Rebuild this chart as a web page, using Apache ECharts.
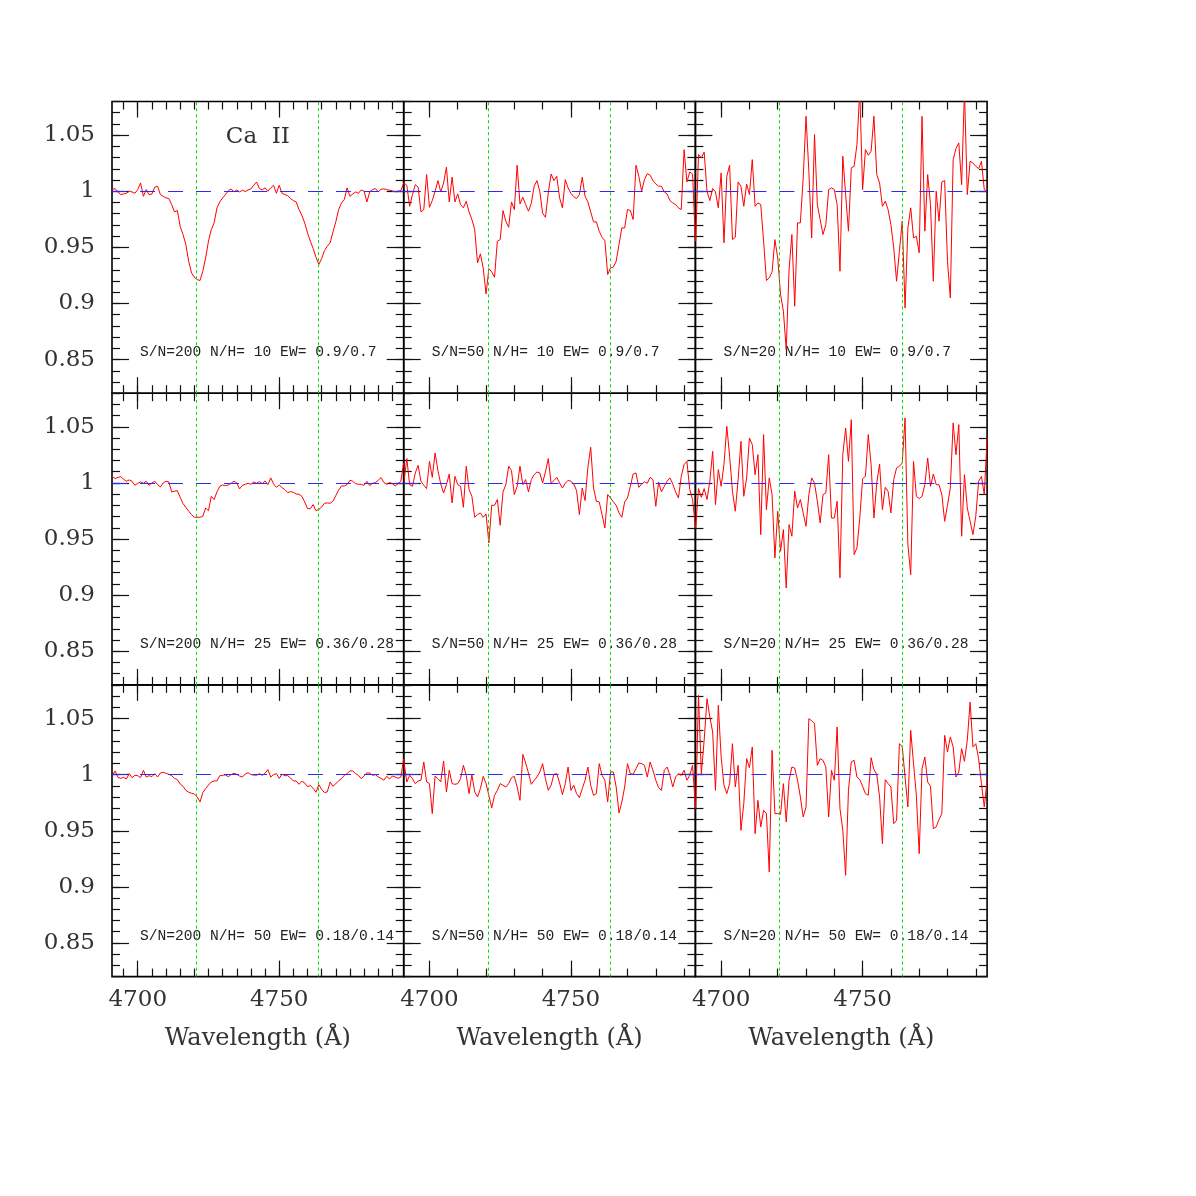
<!DOCTYPE html>
<html>
<head>
<meta charset="utf-8">
<title>Ca II</title>
<script src="https://cdn.jsdelivr.net/npm/echarts@6.0.0/dist/echarts.min.js"></script>
<style>
  html, body { margin: 0; padding: 0; background: #fff; }
  #chart { width: 1196px; height: 1196px; }
</style>
</head>
<body>
<div id="chart"></div>
<script>
// wavelength sampling (Å), shared by every panel
const wavelength = [
  4691, 4692, 4693, 4694, 4695, 4696, 4697, 4698, 4699, 4700,
  4701, 4702, 4703, 4704, 4705, 4706, 4707, 4708, 4709, 4710,
  4711, 4712, 4713, 4714, 4715, 4716, 4717, 4718, 4719, 4720,
  4721, 4722, 4723, 4724, 4725, 4726, 4727, 4728, 4729, 4730,
  4731, 4732, 4733, 4734, 4735, 4736, 4737, 4738, 4739, 4740,
  4741, 4742, 4743, 4744, 4745, 4746, 4747, 4748, 4749, 4750,
  4751, 4752, 4753, 4754, 4755, 4756, 4757, 4758, 4759, 4760,
  4761, 4762, 4763, 4764, 4765, 4766, 4767, 4768, 4769, 4770,
  4771, 4772, 4773, 4774, 4775, 4776, 4777, 4778, 4779, 4780,
  4781, 4782, 4783, 4784, 4785, 4786, 4787, 4788, 4789, 4790,
  4791, 4792, 4793, 4794
];

// normalised flux, N/H = 10
const sn200_nh10 = [
  1.0015, 1.0024, 0.9994, 0.9970, 0.9976, 0.9982, 1.0000, 0.9994, 0.9982, 1.0015,
  1.0074, 0.9955, 1.0015, 0.9970, 0.9976, 1.0036, 1.0045, 0.9970, 0.9955, 0.9941,
  0.9935, 0.9881, 0.9816, 0.9828, 0.9688, 0.9614, 0.9525, 0.9376, 0.9272, 0.9234,
  0.9213, 0.9204, 0.9287, 0.9406, 0.9555, 0.9658, 0.9718, 0.9852, 0.9905, 0.9941,
  0.9970, 1.0006, 1.0021, 0.9994, 1.0012, 0.9994, 1.0009, 0.9997, 1.0012, 1.0021,
  1.0053, 1.0083, 1.0024, 1.0012, 1.0030, 1.0000, 1.0030, 1.0053, 0.9982, 1.0053,
  0.9982, 0.9970, 0.9961, 0.9935, 0.9917, 0.9905, 0.9837, 0.9786, 0.9718, 0.9629,
  0.9555, 0.9489, 0.9412, 0.9347, 0.9400, 0.9471, 0.9510, 0.9540, 0.9638, 0.9727,
  0.9837, 0.9896, 0.9926, 1.0030, 0.9955, 0.9976, 0.9994, 0.9982, 1.0012, 1.0000,
  0.9905, 0.9994, 1.0015, 1.0024, 0.9994, 1.0018, 1.0021, 1.0015, 1.0009, 1.0003,
  0.9994, 1.0000, 1.0006, 1.0074
];
const sn50_nh10 = [
  1.0074, 1.0053, 0.9866, 0.9970, 1.0059, 1.0036, 0.9816, 0.9837, 1.0149, 0.9857,
  0.9917, 1.0000, 1.0095, 0.9994, 1.0074, 1.0214, 0.9905, 1.0125, 0.9905, 0.9976,
  0.9881, 0.9852, 0.9911, 0.9816, 0.9748, 0.9658, 0.9361, 0.9442, 0.9317, 0.9085,
  0.9311, 0.9281, 0.9234, 0.9555, 0.9569, 0.9828, 0.9733, 0.9679, 0.9905, 0.9837,
  1.0232, 0.9887, 0.9947, 0.9881, 0.9822, 0.9893, 1.0045, 1.0095, 1.0000, 0.9804,
  0.9768, 0.9985, 1.0154, 1.0095, 1.0134, 0.9941, 0.9852, 1.0104, 1.0030, 0.9982,
  0.9952, 0.9935, 0.9970, 1.0125, 0.9955, 0.9905, 0.9816, 0.9727, 0.9727, 0.9644,
  0.9590, 0.9560, 0.9258, 0.9317, 0.9323, 0.9376, 0.9525, 0.9673, 0.9673, 0.9837,
  0.9828, 0.9748, 1.0232, 1.0134, 1.0000, 1.0104, 1.0157, 1.0143, 1.0095, 1.0065,
  1.0045, 1.0045, 0.9994, 0.9976, 0.9917, 0.9896, 0.9881, 0.9852, 0.9837, 1.0371,
  1.0083, 1.0172, 1.0154, 0.9555
];
const sn20_nh10 = [
  0.9555, 1.0327, 1.0297, 1.0350, 1.0000, 0.9917, 1.0024, 0.9994, 0.9852, 1.0163,
  0.9540, 1.0134, 1.0232, 0.9569, 0.9590, 1.0083, 1.0045, 0.9866, 1.0065, 0.9970,
  1.0282, 0.9866, 0.9896, 0.9881, 0.9555, 0.9204, 0.9228, 0.9281, 0.9569, 0.9406,
  0.9079, 0.8931, 0.8589, 0.9302, 0.9614, 0.8975, 0.9718, 0.9718, 1.0119, 1.0668,
  1.0178, 0.9584, 1.0505, 0.9881, 0.9748, 0.9614, 0.9703, 1.0015, 1.0030, 1.0015,
  0.9881, 0.9287, 1.0312, 0.9970, 0.9644, 1.0208, 1.0223, 1.0416, 1.0900, 1.0015,
  1.0371, 1.0321, 1.0356, 1.0668, 1.0149, 1.0074, 0.9866, 0.9911, 0.9837, 0.9703,
  0.9495, 0.9198, 0.9465, 0.9733, 0.8960, 0.9673, 0.9852, 0.9584, 0.9599, 0.9451,
  1.0668, 0.9644, 1.0149, 0.9881, 0.9198, 1.0000, 0.9733, 1.0083, 1.0095, 0.9376,
  0.9050, 1.0282, 1.0380, 1.0431, 1.0059, 1.0900, 0.9970, 1.0267, 1.0252, 1.0223,
  1.0202, 1.0267, 1.0015, 1.0000
];

// normalised flux, N/H = 25
const sn200_nh25 = [
  1.0059, 1.0039, 1.0050, 1.0056, 1.0033, 1.0015, 1.0027, 1.0015, 0.9979, 0.9997,
  1.0009, 0.9997, 1.0015, 0.9979, 1.0000, 1.0015, 0.9985, 0.9964, 1.0000, 1.0015,
  1.0009, 0.9920, 0.9926, 0.9932, 0.9872, 0.9816, 0.9783, 0.9748, 0.9718, 0.9694,
  0.9694, 0.9694, 0.9703, 0.9777, 0.9753, 0.9881, 0.9852, 0.9920, 0.9970, 0.9982,
  0.9976, 0.9982, 0.9997, 1.0015, 1.0000, 0.9947, 0.9979, 0.9988, 0.9997, 0.9988,
  1.0009, 0.9997, 1.0012, 0.9994, 1.0018, 0.9985, 1.0045, 0.9991, 0.9961, 0.9982,
  0.9958, 0.9941, 0.9914, 0.9923, 0.9917, 0.9902, 0.9899, 0.9881, 0.9831, 0.9771,
  0.9771, 0.9807, 0.9753, 0.9765, 0.9786, 0.9819, 0.9822, 0.9819, 0.9837, 0.9887,
  0.9935, 0.9973, 0.9973, 0.9985, 1.0024, 1.0015, 0.9994, 0.9988, 0.9988, 0.9979,
  1.0015, 0.9976, 0.9997, 1.0003, 1.0024, 1.0048, 1.0003, 0.9988, 1.0003, 0.9994,
  0.9973, 0.9994, 1.0015, 1.0178
];
const sn50_nh25 = [
  1.0009, 1.0217, 0.9985, 0.9970, 1.0089, 1.0157, 1.0015, 0.9979, 0.9950, 1.0193,
  1.0050, 1.0267, 1.0110, 0.9991, 0.9911, 0.9985, 1.0080, 0.9822, 1.0059, 0.9985,
  0.9970, 0.9783, 1.0149, 0.9941, 0.9881, 0.9694, 0.9718, 0.9733, 0.9694, 0.9724,
  0.9465, 0.9801, 0.9801, 0.9852, 0.9623, 0.9920, 0.9985, 1.0149, 1.0110, 0.9896,
  0.9970, 1.0149, 0.9985, 1.0030, 0.9920, 1.0030, 1.0074, 1.0098, 1.0089, 1.0000,
  1.0098, 1.0217, 0.9997, 1.0021, 1.0050, 1.0000, 0.9955, 0.9997, 1.0024, 1.0015,
  0.9991, 0.9932, 0.9718, 0.9955, 0.9843, 1.0140, 1.0318, 0.9955, 0.9837, 0.9831,
  0.9718, 0.9599, 0.9896, 0.9866, 0.9831, 0.9801, 0.9733, 0.9694, 0.9831, 0.9866,
  0.9970, 1.0080, 1.0089, 0.9961, 0.9991, 1.0009, 0.9997, 1.0050, 1.0030, 0.9792,
  1.0009, 0.9920, 0.9970, 1.0015, 1.0045, 0.9991, 0.9920, 0.9866, 1.0059, 1.0163,
  1.0193, 0.9941, 0.9852, 0.9614
];
const sn20_nh25 = [
  0.9599, 0.9950, 0.9872, 0.9950, 0.9852, 1.0015, 1.0282, 0.9807, 1.0119, 0.9970,
  1.0163, 1.0505, 1.0238, 0.9926, 0.9748, 1.0030, 1.0371, 0.9881, 1.0045, 1.0401,
  1.0342, 1.0074, 1.0252, 0.9540, 1.0431, 0.9762, 1.0045, 0.9896, 0.9332, 0.9748,
  0.9391, 0.9584, 0.9064, 0.9629, 0.9525, 0.9926, 0.9777, 0.9852, 0.9733, 0.9614,
  0.9896, 1.0045, 1.0000, 0.9837, 0.9644, 0.9896, 0.9911, 1.0252, 0.9688, 0.9688,
  0.9837, 0.9154, 1.0252, 1.0490, 1.0193, 1.0564, 0.9361, 0.9421, 0.9688, 1.0039,
  1.0059, 1.0431, 1.0163, 0.9688, 1.0000, 1.0169, 0.9762, 0.9961, 0.9926, 0.9733,
  1.0030, 1.0134, 1.0149, 1.0178, 1.0579, 0.9451, 0.9183, 1.0193, 0.9881, 0.9860,
  0.9881, 0.9985, 1.0223, 0.9970, 1.0080, 0.9985, 0.9985, 0.9896, 0.9658, 0.9801,
  0.9955, 1.0535, 1.0252, 1.0520, 0.9525, 1.0074, 0.9777, 0.9658, 0.9540, 0.9703,
  1.0015, 1.0059, 0.9896, 1.0401
];

// normalised flux, N/H = 50
const sn200_nh50 = [
  0.9994, 1.0033, 0.9976, 0.9967, 0.9976, 0.9961, 1.0009, 0.9973, 0.9994, 0.9991,
  0.9973, 1.0039, 0.9979, 0.9991, 0.9982, 1.0009, 0.9979, 1.0015, 1.0021, 1.0012,
  1.0003, 0.9991, 0.9967, 0.9955, 0.9917, 0.9896, 0.9860, 0.9843, 0.9834, 0.9828,
  0.9801, 0.9756, 0.9840, 0.9875, 0.9908, 0.9935, 0.9944, 0.9944, 0.9991, 0.9994,
  0.9997, 0.9982, 1.0000, 1.0012, 1.0003, 0.9988, 0.9979, 1.0006, 1.0018, 1.0000,
  0.9997, 0.9994, 1.0009, 0.9994, 1.0012, 1.0045, 0.9979, 1.0000, 1.0009, 0.9967,
  1.0003, 0.9991, 0.9991, 0.9970, 0.9944, 0.9944, 0.9914, 0.9941, 0.9926, 0.9893,
  0.9902, 0.9878, 0.9843, 0.9911, 0.9869, 0.9840, 0.9846, 0.9935, 0.9896, 0.9920,
  0.9944, 0.9964, 0.9994, 1.0009, 1.0033, 1.0033, 1.0009, 0.9994, 0.9964, 0.9991,
  1.0015, 1.0015, 0.9994, 1.0000, 0.9979, 0.9967, 0.9950, 0.9985, 0.9961, 0.9988,
  0.9979, 0.9967, 0.9979, 1.0143
];
const sn50_nh50 = [
  1.0113, 0.9935, 0.9994, 0.9964, 0.9920, 0.9944, 0.9950, 1.0113, 0.9935, 0.9920,
  0.9653, 0.9988, 0.9964, 0.9935, 1.0122, 0.9846, 1.0039, 0.9920, 0.9914, 0.9920,
  0.9964, 1.0083, 0.9994, 0.9831, 1.0000, 0.9846, 0.9801, 0.9875, 0.9985, 0.9920,
  0.9816, 0.9703, 0.9816, 0.9860, 0.9920, 0.9905, 0.9890, 0.9920, 0.9973, 0.9985,
  0.9890, 0.9771, 1.0181, 1.0104, 1.0015, 0.9914, 0.9950, 0.9979, 1.0024, 1.0098,
  0.9964, 0.9860, 0.9905, 1.0003, 1.0009, 0.9926, 0.9822, 0.9920, 1.0068, 0.9860,
  0.9905, 0.9831, 0.9795, 0.9875, 0.9950, 1.0068, 0.9905, 0.9816, 0.9831, 1.0098,
  0.9994, 0.9950, 0.9756, 1.0024, 1.0024, 0.9890, 0.9658, 0.9756, 0.9890, 1.0098,
  1.0009, 1.0003, 1.0053, 1.0104, 1.0098, 1.0083, 0.9979, 1.0113, 1.0039, 0.9950,
  0.9884, 0.9860, 1.0039, 1.0068, 0.9994, 0.9890, 0.9979, 1.0009, 0.9994, 1.0039,
  0.9950, 0.9994, 1.0083, 0.9712
];
const sn20_nh50 = [
  0.9697, 1.0707, 1.0009, 1.0306, 1.0677, 1.0514, 1.0380, 0.9860, 1.0618, 1.0157,
  0.9905, 0.9831, 0.9920, 1.0276, 0.9890, 1.0083, 0.9504, 0.9742, 1.0143, 1.0062,
  1.0247, 0.9474, 0.9771, 0.9534, 0.9682, 0.9653, 0.9133, 1.0217, 0.9653, 0.9653,
  0.9647, 0.9920, 0.9578, 0.9950, 1.0068, 1.0059, 0.9950, 0.9801, 0.9623, 0.9712,
  1.0499, 1.0481, 1.0454, 1.0083, 1.0143, 1.0128, 1.0068, 0.9623, 1.0039, 0.9950,
  1.0425, 0.9697, 0.9504, 0.9103, 0.9860, 1.0113, 1.0128, 0.9979, 0.9955, 0.9896,
  0.9831, 0.9816, 1.0151, 1.0045, 1.0003, 0.9801, 0.9385, 0.9955, 0.9920, 0.9890,
  0.9563, 0.9593, 1.0276, 1.0252, 0.9979, 0.9712, 1.0395, 1.0098, 0.9816, 0.9296,
  1.0053, 1.0157, 0.9935, 0.9896, 0.9519, 0.9534, 0.9599, 0.9653, 1.0350, 1.0202,
  1.0336, 1.0247, 0.9979, 1.0024, 1.0232, 1.0119, 1.0306, 1.0647, 1.0247, 1.0276,
  1.0143, 0.9920, 0.9712, 0.9950
];

const snRatio = [200, 50, 20];
const nhRatio = [10, 25, 50];
const ewLabels = ['0.9/0.7', '0.36/0.28', '0.18/0.14'];
const lineCenters = [4720.7, 4763.9];
const continuum = 1;
const xTicks = [4700, 4750];
const yTicks = [0.85, 0.9, 0.95, 1, 1.05];
const xMinorStep = [5, 10, 10];
const yMinorStep = 0.01;

const panels = [
  [sn200_nh10, sn50_nh10, sn20_nh10],
  [sn200_nh25, sn50_nh25, sn20_nh25],
  [sn200_nh50, sn50_nh50, sn20_nh50]
];

// layout
const X_MIN = 4690.9, X_MAX = 4794.0, Y_MIN = 0.82, Y_MAX = 1.08;
const LEFT = 112, TOP = 101.5, CELL = 291.7;
const sx = CELL / (X_MAX - X_MIN);
const sy = CELL / (Y_MAX - Y_MIN);
const SERIF = 'DejaVu Serif';
const TEXT = '#333';

const grid = [], xAxis = [], yAxis = [], series = [], graphic = [];

const r4 = v => Math.round(v * 10000) / 10000;

function tickStyle(len) {
  return { show: true, inside: true, length: len, lineStyle: { color: '#111', width: 1.2 } };
}

function addTickGrid(x0, y0, xr, yr, xStep, yStep, xLen, yLen, xLabels, yLabels) {
  const gi = grid.length;
  grid.push({
    left: x0 + (xr[0] - X_MIN) * sx,
    top: y0 + (Y_MAX - yr[1]) * sy,
    width: (xr[1] - xr[0]) * sx,
    height: (yr[1] - yr[0]) * sy,
    containLabel: false,
    outerBoundsMode: 'none'
  });
  const offs = {
    bottom: (yr[0] - Y_MIN) * sy,
    top: (Y_MAX - yr[1]) * sy,
    left: (xr[0] - X_MIN) * sx,
    right: (X_MAX - xr[1]) * sx
  };
  ['bottom', 'top'].forEach(pos => {
    xAxis.push({
      type: 'value', gridIndex: gi, position: pos, offset: offs[pos],
      min: xr[0], max: xr[1], interval: xStep,
      axisLine: { show: false, onZero: false },
      splitLine: { show: false },
      axisTick: tickStyle(xLen),
      axisLabel: (pos === 'bottom' && xLabels) ? {
        show: true, margin: 12, color: TEXT, fontFamily: SERIF, fontSize: 23,
        formatter: v => String(Math.round(v))
      } : { show: false }
    });
  });
  ['left', 'right'].forEach(pos => {
    yAxis.push({
      type: 'value', gridIndex: gi, position: pos, offset: offs[pos],
      min: yr[0], max: yr[1], interval: yStep,
      axisLine: { show: false, onZero: false },
      splitLine: { show: false },
      axisTick: tickStyle(yLen),
      axisLabel: (pos === 'left' && yLabels) ? {
        show: true, margin: 17, color: TEXT, fontFamily: SERIF, fontSize: 23,
        formatter: v => String(Number(v.toFixed(2)))
      } : { show: false }
    });
  });
}

for (let r = 0; r < 3; r++) {
  for (let c = 0; c < 3; c++) {
    const x0 = LEFT + c * CELL;
    const y0 = TOP + r * CELL;

    // data grid with the panel frame
    const gi = grid.length;
    grid.push({
      left: x0, top: y0, width: CELL, height: CELL,
      show: true, borderColor: '#000', borderWidth: 1.6, backgroundColor: 'transparent',
      containLabel: false, outerBoundsMode: 'none'
    });
    const xi = xAxis.length, yi = yAxis.length;
    xAxis.push({
      type: 'value', gridIndex: gi, min: X_MIN, max: X_MAX,
      axisLine: { show: false, onZero: false }, axisTick: { show: false },
      axisLabel: { show: false }, splitLine: { show: false },
      name: r === 2 ? 'Wavelength (Å)' : '',
      nameLocation: 'middle', nameGap: 50,
      nameTextStyle: { fontFamily: SERIF, fontSize: 24, color: TEXT }
    });
    yAxis.push({
      type: 'value', gridIndex: gi, min: Y_MIN, max: Y_MAX,
      axisLine: { show: false, onZero: false }, axisTick: { show: false },
      axisLabel: { show: false }, splitLine: { show: false }
    });

    series.push({
      type: 'line',
      xAxisIndex: xi, yAxisIndex: yi,
      data: wavelength.map((w, i) => [w, panels[r][c][i]]),
      showSymbol: false, symbol: 'none',
      lineStyle: { color: '#ff0000', width: 1 },
      clip: true, animation: false, silent: true,
      markLine: {
        silent: true, symbol: ['none', 'none'], animation: false,
        label: { show: false },
        data: [
          { yAxis: continuum, lineStyle: { color: '#2a2aff', width: 1, type: [15, 13] } },
          ...lineCenters.map(w => ({ xAxis: w, lineStyle: { color: '#00e000', width: 1, type: [3, 3] } }))
        ]
      }
    });

    // minor ticks
    const xs = xMinorStep[c];
    addTickGrid(x0, y0,
      [Math.ceil(X_MIN / xs) * xs, Math.floor(X_MAX / xs) * xs],
      [r4(Math.ceil(Y_MIN / yMinorStep - 1e-6) * yMinorStep), r4(Math.floor(Y_MAX / yMinorStep + 1e-6) * yMinorStep)],
      xs, yMinorStep, 8, 8, false, false);
    // major ticks with labels
    addTickGrid(x0, y0,
      [xTicks[0], xTicks[xTicks.length - 1]],
      [yTicks[0], yTicks[yTicks.length - 1]],
      xTicks[1] - xTicks[0], r4(yTicks[1] - yTicks[0]), 16, 17,
      r === 2, c === 0);

    graphic.push({
      type: 'text', x: x0 + 28, y: y0 + 251, silent: true,
      style: {
        text: 'S/N=' + snRatio[c] + ' N/H= ' + nhRatio[r] + ' EW= ' + ewLabels[r],
        fontFamily: 'Liberation Mono', fontSize: 14.6, fill: '#222',
        align: 'left', verticalAlign: 'middle'
      }
    });
  }
}

graphic.push({
  type: 'text', x: LEFT + CELL / 2, y: 137, silent: true,
  style: {
    text: 'Ca  II', fontFamily: SERIF, fontSize: 23, fill: TEXT,
    align: 'center', verticalAlign: 'middle'
  }
});

const chart = echarts.init(document.getElementById('chart'), null, { renderer: 'canvas' });
chart.setOption({
  backgroundColor: '#fff',
  animation: false,
  grid, xAxis, yAxis, series, graphic
});
</script>
</body>
</html>
